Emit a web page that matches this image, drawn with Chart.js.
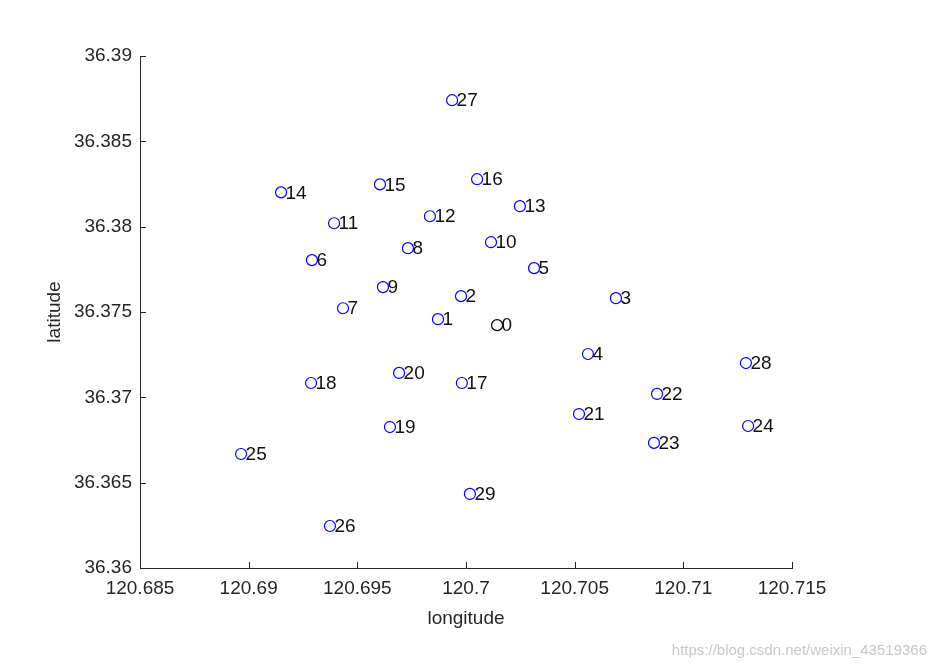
<!DOCTYPE html>
<html>
<head>
<meta charset="utf-8">
<script src="https://cdn.jsdelivr.net/npm/chart.js@4/dist/chart.umd.min.js"></script>
<style>
    html, body { margin: 0; padding: 0; background: #fff; }
    #wrap { width: 934px; height: 670px; position: relative; }
</style>
</head>
<body>
<div id="wrap"><canvas id="chart" width="934" height="670"></canvas></div>
<script>
// point ids, longitude and latitude
let ids = [0,1,2,3,4,5,6,7,8,9,10,11,12,13,14,15,16,17,18,19,20,21,22,23,24,25,26,27,28,29];
let lons = [120.70143, 120.69871, 120.69977, 120.70690, 120.70561, 120.70313, 120.69291, 120.69434,
            120.69733, 120.69618, 120.70115, 120.69393, 120.69834, 120.70248, 120.69149, 120.69604,
            120.70051, 120.69981, 120.69287, 120.69650, 120.69692, 120.70520, 120.70879, 120.70865,
            120.71298, 120.68965, 120.69374, 120.69936, 120.71288, 120.70018];
let lats = [36.37423, 36.37458, 36.37593, 36.37581, 36.37254, 36.37757, 36.37804, 36.37522,
            36.37874, 36.37646, 36.37909, 36.38020, 36.38061, 36.38120, 36.38201, 36.38248,
            36.38278, 36.37084, 36.37084, 36.36826, 36.37143, 36.36902, 36.37020, 36.36733,
            36.36832, 36.36668, 36.36246, 36.38741, 36.37201, 36.36434];

let xTicks = [120.685, 120.69, 120.695, 120.7, 120.705, 120.71, 120.715];
let yTicks = [36.36, 36.365, 36.37, 36.375, 36.38, 36.385, 36.39];

const textColor = "#262626";
const font = "Liberation Sans, Arial, Helvetica, sans-serif";

let points = ids.map((id, i) => ({ x: lons[i], y: lats[i] }));
let borderColors = ids.map(id => id === 0 ? "#000000" : "#0000ff");

// labels, inward ticks, axis titles and the watermark
const extras = {
    id: "extras",
    afterDraw(chart) {
        const ctx = chart.ctx;
        const xs = chart.scales.x, ys = chart.scales.y;
        const area = chart.chartArea;
        ctx.save();

        ctx.strokeStyle = textColor;
        ctx.lineWidth = 1;
        ctx.beginPath();
        xTicks.forEach(v => {
            let px = Math.round(xs.getPixelForValue(v)) + 0.5;
            ctx.moveTo(px, area.bottom);
            ctx.lineTo(px, area.bottom - 6);
        });
        yTicks.forEach(v => {
            let py = Math.round(ys.getPixelForValue(v)) + 0.5;
            ctx.moveTo(area.left, py);
            ctx.lineTo(area.left + 6, py);
        });
        ctx.stroke();

        ctx.fillStyle = "#111";
        ctx.font = "19px " + font;
        ctx.textAlign = "left";
        ctx.textBaseline = "middle";
        ids.forEach((id, i) => {
            let px = xs.getPixelForValue(lons[i]);
            let py = ys.getPixelForValue(lats[i]);
            ctx.fillText(String(id), px + 4.5, py + 1);
        });

        ctx.fillStyle = textColor;
        ctx.textAlign = "center";
        ctx.fillText("longitude", (area.left + area.right) / 2, 619);
        ctx.translate(55, (area.top + area.bottom) / 2);
        ctx.rotate(-Math.PI / 2);
        ctx.fillText("latitude", 0, 0);
        ctx.restore();

        ctx.save();
        ctx.fillStyle = "#c8c8c8";
        ctx.font = "15px " + font;
        ctx.textAlign = "right";
        ctx.textBaseline = "middle";
        ctx.fillText("https://blog.csdn.net/weixin_43519366", 927, 651);
        ctx.restore();
    }
};

new Chart(document.getElementById("chart"), {
    type: "scatter",
    data: {
        datasets: [{
            data: points,
            pointStyle: "circle",
            pointRadius: 5.5,
            pointHoverRadius: 5.5,
            pointBorderWidth: 1.2,
            pointBackgroundColor: "rgba(0,0,0,0)",
            pointBorderColor: borderColors
        }]
    },
    options: {
        responsive: false,
        animation: false,
        layout: { padding: { top: 56, right: 142, left: 0, bottom: 0 } },
        plugins: { legend: { display: false }, tooltip: { enabled: false } },
        scales: {
            x: {
                type: "linear",
                min: 120.685,
                max: 120.715,
                afterBuildTicks: s => { s.ticks = xTicks.map(v => ({ value: v })); },
                afterFit: s => { s.height = 102; },
                grid: { drawOnChartArea: false, drawTicks: false },
                border: { display: true, color: textColor, width: 1 },
                ticks: {
                    padding: 9,
                    color: textColor,
                    font: { family: font, size: 19 },
                    callback: v => String(Number(v.toFixed(3)))
                }
            },
            y: {
                type: "linear",
                min: 36.36,
                max: 36.39,
                afterBuildTicks: s => { s.ticks = yTicks.map(v => ({ value: v })); },
                afterFit: s => { s.width = 140; },
                grid: { drawOnChartArea: false, drawTicks: false },
                border: { display: true, color: textColor, width: 1 },
                ticks: {
                    padding: 8,
                    color: textColor,
                    font: { family: font, size: 19 },
                    callback: v => String(Number(v.toFixed(3)))
                }
            }
        }
    },
    plugins: [extras]
});
</script>
</body>
</html>
